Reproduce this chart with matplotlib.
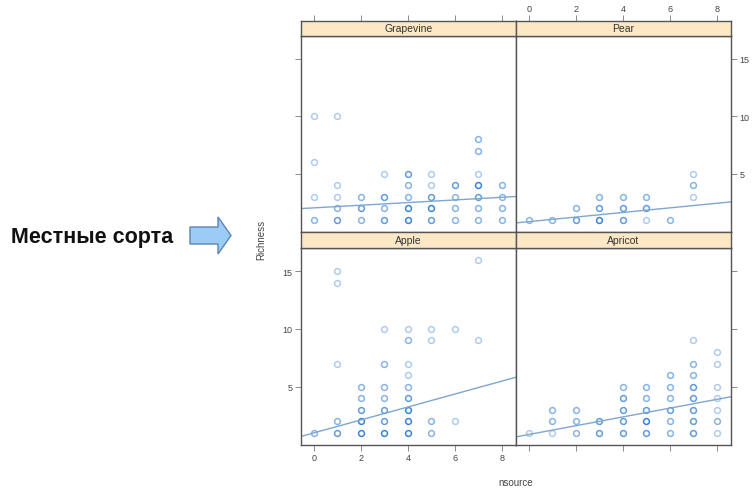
import matplotlib
matplotlib.use("Agg")
import matplotlib.pyplot as plt
from matplotlib.patches import Polygon
import numpy as np

plt.rcParams['font.family'] = ['Liberation Sans', 'DejaVu Sans']

# ---------------- data ----------------
panels = ["Grapevine", "Pear", "Apple", "Apricot"]

grape_x = [0, 0, 0, 0, 1, 1, 1, 1, 1, 2, 2, 2, 3, 3, 3, 3, 4, 4, 4, 4, 4,
           5, 5, 5, 5, 5, 6, 6, 6, 6, 7, 7, 7, 7, 7, 7, 7, 8, 8, 8, 8]
grape_y = [1, 3, 6, 10, 1, 2, 3, 4, 10, 1, 2, 3, 1, 2, 3, 5, 1, 2, 3, 4, 5,
           1, 2, 3, 4, 5, 1, 2, 3, 4, 1, 2, 3, 4, 5, 7, 8, 1, 2, 3, 4]
grape_n = [2, 1, 1, 1, 3, 2, 1, 1, 1, 2, 3, 2, 3, 2, 3, 1, 4, 4, 2, 2, 3,
           3, 4, 3, 1, 1, 2, 2, 2, 3, 2, 2, 3, 4, 1, 2, 2, 2, 2, 2, 2]

pear_x = [0, 1, 2, 2, 3, 3, 3, 4, 4, 4, 5, 5, 5, 6, 7, 7, 7]
pear_y = [1, 1, 1, 2, 1, 2, 3, 1, 2, 3, 1, 2, 3, 1, 3, 4, 5]
pear_n = [2, 2, 3, 2, 4, 3, 2, 3, 3, 2, 1, 3, 2, 2, 1, 2, 1]

apple_x = [0, 1, 1, 1, 1, 1, 2, 2, 2, 2, 2, 3, 3, 3, 3, 3, 3, 3,
           4, 4, 4, 4, 4, 4, 4, 4, 4, 5, 5, 5, 5, 6, 6, 7, 7]
apple_y = [1, 1, 2, 7, 14, 15, 1, 2, 3, 4, 5, 1, 2, 3, 4, 5, 7, 10,
           1, 2, 3, 4, 5, 6, 7, 9, 10, 1, 2, 9, 10, 2, 10, 9, 16]
apple_n = [2, 3, 2, 1, 1, 1, 4, 4, 3, 2, 2, 4, 3, 3, 2, 2, 2, 1,
           4, 4, 4, 3, 2, 1, 1, 2, 1, 2, 2, 1, 1, 1, 1, 1, 1]

apricot_x = [0, 1, 1, 1, 2, 2, 2, 3, 3, 4, 4, 4, 4, 4, 5, 5, 5, 5, 5,
             6, 6, 6, 6, 6, 6, 7, 7, 7, 7, 7, 7, 7, 7, 8, 8, 8, 8, 8, 8, 8]
apricot_y = [1, 1, 2, 3, 1, 2, 3, 1, 2, 1, 2, 3, 4, 5, 1, 2, 3, 4, 5,
             1, 2, 3, 4, 5, 6, 1, 2, 3, 4, 5, 6, 7, 9, 1, 2, 3, 4, 5, 7, 8]
apricot_n = [1, 1, 2, 2, 2, 2, 2, 3, 3, 3, 3, 3, 3, 2, 3, 4, 3, 2, 2,
             2, 2, 3, 2, 2, 2, 3, 3, 3, 3, 3, 2, 2, 1, 1, 2, 1, 1, 1, 1, 1]

# regression lines (intercept, slope)
line_intercept = [2.05, 0.85, 1.0, 0.86]
line_slope = [0.115, 0.20, 0.56, 0.38]

x_ticks = [0, 2, 4, 6, 8]
y_ticks = [5, 10, 15]

data = {
    "Grapevine": (grape_x, grape_y, grape_n),
    "Pear": (pear_x, pear_y, pear_n),
    "Apple": (apple_x, apple_y, apple_n),
    "Apricot": (apricot_x, apricot_y, apricot_n),
}

# ---------------- layout ----------------
W, H = 755, 489
fig = plt.figure(figsize=(W / 100, H / 100), dpi=100)
fig.patch.set_facecolor("white")

cols = [(301, 516), (516, 731)]
rows = [((22, 37), (37, 233)), ((233, 249), (249, 446))]
XLIM = (-0.55, 8.6)
YLIM = (-0.05, 17.0)
BORDER = "#555555"
PT_COLOR = "#2a7ad2"
LINE_COLOR = "#7ea6cf"


def fax(x0, x1, y0, y1):
    return fig.add_axes([x0 / W, 1 - y1 / H, (x1 - x0) / W, (y1 - y0) / H])


layout = {"Grapevine": (0, 0), "Pear": (0, 1), "Apple": (1, 0), "Apricot": (1, 1)}

for i, name in enumerate(panels):
    r, c = layout[name]
    (sy0, sy1), (py0, py1) = rows[r]
    x0, x1 = cols[c]
    ax = fax(x0, x1, py0, py1)
    st = fax(x0, x1, sy0, sy1)

    xs, ys, ns = data[name]
    for xv, yv, nv in zip(xs, ys, ns):
        a = min(1.0, 0.2 + 0.18 * nv)
        ax.plot([xv], [yv], linestyle="none", marker="o", markersize=4.2,
                markerfacecolor="none", markeredgecolor=PT_COLOR,
                markeredgewidth=1.1, alpha=a)
    lx = np.array(XLIM)
    ax.plot(lx, line_intercept[i] + line_slope[i] * lx, color=LINE_COLOR, lw=1.0)

    ax.set_xlim(*XLIM)
    ax.set_ylim(*YLIM)
    st.set_xlim(*XLIM)
    st.set_xticks([])
    st.set_yticks([])
    st.set_facecolor("#fde8c6")
    st.text(0.5, 0.5, name, transform=st.transAxes, ha="center", va="center",
            fontsize=7.5, color="#333333")
    for a_ in (ax, st):
        for sp in a_.spines.values():
            sp.set_color(BORDER)
            sp.set_linewidth(1.0)

    ax.set_xticks(x_ticks)
    ax.set_yticks(y_ticks)
    ax.tick_params(direction="out", length=4, width=0.6, color="#777777",
                   labelsize=6.5, labelcolor="#444444", pad=2)

    ax.tick_params(bottom=False, labelbottom=False, top=False, labeltop=False,
                   left=False, labelleft=False, right=False, labelright=False)
    if r == 1:
        ax.tick_params(bottom=True, labelbottom=(c == 0))
    if c == 0:
        ax.tick_params(left=True, labelleft=(r == 1))
    if c == 1:
        ax.tick_params(right=True, labelright=(r == 0))
    if r == 0:
        st.set_xticks(x_ticks)
        st.tick_params(axis="x", bottom=False, labelbottom=False, top=True,
                       labeltop=(c == 1), direction="out", length=4, width=0.6,
                       color="#777777", labelsize=6.5, labelcolor="#444444", pad=2)

fig.text(261 / W, 1 - 240 / H, "Richness", rotation=90, ha="center", va="center",
         fontsize=7, color="#444444")
fig.text(516 / W, 1 - 483 / H, "nsource", ha="center", va="center",
         fontsize=7, color="#444444")

# annotation on the left
fig.text(11 / W, 1 - 238 / H, "Местные сорта", ha="left", va="center",
         fontsize=15.5, fontweight="bold", color="#111111")
arrow_px = [(190, 228), (218, 228), (218, 218), (231, 236.5), (218, 255),
            (218, 245), (190, 245)]
arrow = Polygon([(px / W, 1 - py / H) for px, py in arrow_px], closed=True,
                transform=fig.transFigure, facecolor="#9ccbf6",
                edgecolor="#5b84b8", linewidth=1.0)
fig.patches.append(arrow)

fig.savefig("out.png", dpi=100)
